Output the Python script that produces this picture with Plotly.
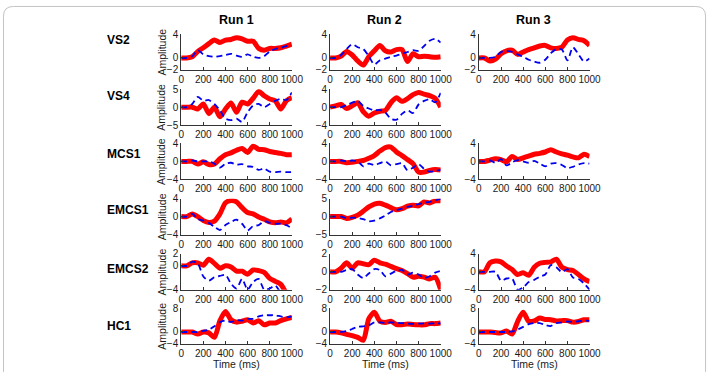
import plotly.graph_objects as go

# ---------------- data ----------------
time_ms = list(range(0, 1001, 50))
x_ticks = [0, 200, 400, 600, 800, 1000]
run_titles = ["Run 1", "Run 2", "Run 3"]
row_labels = ["VS2", "VS4", "MCS1", "EMCS1", "EMCS2", "HC1"]

vs2_r1_red = [0, 0, 0.2, 1.1, 1.7, 2.4, 3.0, 2.6, 3.0, 3.1, 3.4, 3.2, 2.8, 2.8, 1.6, 1.3, 1.6, 1.6, 1.7, 2.0, 2.3]
vs2_r1_blue = [0, 0, 0.3, 1.3, 0.6, 0.3, 0.2, 0.3, 0.5, 0.7, 0.4, 0.2, 0.6, 0.2, 0.0, 0.3, 1.1, 1.5, 1.7, 2.0, 2.0]
vs2_r2_red = [0, 0, 0.3, 1.1, 0.5, -0.5, -1.2, 0.2, 1.2, 2.1, 1.2, 1.0, 1.4, 1.4, -0.6, 0.7, 0.2, 0.3, 0.2, 0.1, 0.2]
vs2_r2_blue = [0, 0, 0.5, 1.5, 2.3, 1.8, 1.5, 0.3, -1.1, -0.4, -0.1, 0.2, 0.4, 0.7, 1.0, 1.3, 1.2, 2.0, 2.9, 3.2, 2.6]
vs2_r3_red = [0, 0, -0.5, -0.2, 0.7, 1.2, 1.3, 0.6, 1.0, 1.4, 1.7, 2.0, 2.1, 1.7, 1.6, 1.8, 3.0, 3.4, 3.1, 2.9, 2.1]
vs2_r3_blue = [0, 0, 0, 0.2, 1.0, 1.2, 1.0, 0.6, 0.2, -0.3, -0.6, -0.8, -0.3, 0.8, 1.5, 1.4, -0.4, 1.8, 0.6, -0.6, -0.1]

vs4_r1_red = [0, 0, 0, -0.5, 0.9, -1.8, 0, -2.7, -0.5, 1.2, -1.4, 1.4, 0.9, 2.5, 4.4, 3.2, 2.3, 1.8, -0.5, 1.8, 2.7]
vs4_r1_blue = [0, 0, 0.9, 2.9, 1.8, 2.0, 0.9, -0.9, -3.2, -3.6, -3.2, -4.1, -1.4, 0.5, 0.9, 0, 0.9, 1.8, 2.3, 2.0, 4.1]
vs4_r2_red = [0, 0.3, 0.6, -0.3, 0.3, 1.0, -1.0, -2.0, -1.3, -0.9, -0.7, 1.0, 2.1, 1.3, 1.9, 2.8, 3.3, 2.9, 2.6, 2.0, 0]
vs4_r2_blue = [0, 0, 0, 0.5, 1.0, 1.4, 0.3, -0.3, -0.7, -0.6, -1.2, -2.6, -2.8, -1.5, -0.7, -1.3, 0.6, 1.4, 1.8, 1.1, 3.2]

mcs1_r1_red = [0, 0, 0, -0.6, -0.1, -0.7, -0.6, 0.6, 1.5, 1.9, 2.5, 2.9, 2.0, 3.4, 2.7, 2.6, 2.2, 2.0, 1.8, 1.5, 1.5]
mcs1_r1_blue = [0, 0, 0.2, 0, 0, 0, -0.5, -1.4, -0.5, -0.3, -0.7, -0.6, -1.1, -1.2, -1.9, -1.6, -2.3, -2.4, -2.3, -2.4, -2.4]
mcs1_r2_red = [0, 0, 0, -0.3, -0.2, 0, 0.2, 0.7, 1.3, 2.3, 3.1, 3.2, 2.1, 1.3, 0.4, -0.5, -2.4, -2.4, -2.0, -1.8, -1.9]
mcs1_r2_blue = [0, 0, 0.2, 0, 0.2, 0, -1.1, -0.5, -0.8, -0.4, 0, -0.9, -0.6, -0.4, -2.0, -1.4, -0.6, -1.7, -2.3, -2.1, -1.9]
mcs1_r3_red = [0, 0, 0.3, 0.6, 0.4, -0.1, 1.1, 0.4, 0.8, 1.2, 1.6, 1.8, 2.1, 2.6, 2.1, 1.7, 1.4, 1.0, 0.8, 1.6, 1.1]
mcs1_r3_blue = [0, 0, 0.2, -0.3, 0.5, -0.9, -0.2, 0.3, 0, -0.3, 0.1, -0.5, -1.1, -0.5, -0.4, -0.8, -1.5, -1.2, -0.7, -0.4, -0.5]

emcs1_r1_red = [0, 0, 0.6, 0, -0.9, -1.3, -1.0, 0.6, 3.1, 3.6, 3.3, 2.0, 0.9, 0.6, -0.1, -0.6, -1.2, -1.4, -1.2, -1.4, -0.5]
emcs1_r1_blue = [0, 0, 0.6, -0.5, -0.9, -1.4, -2.3, -3.0, -1.9, -1.2, -0.7, -1.6, -3.1, -2.1, -1.9, -1.0, -1.4, -1.6, -1.6, -1.9, -2.6]
emcs1_r2_red = [0, 0, 0, -0.5, -0.2, 0.4, 1.5, 2.7, 3.5, 3.7, 3.2, 2.5, 1.9, 2.2, 2.9, 3.2, 3.0, 4.1, 3.8, 4.4, 4.4]
emcs1_r2_blue = [0, 0, 0, -0.4, -0.3, -0.4, -0.7, -1.3, -1.1, -0.5, 0.3, 1.3, 1.8, 2.2, 2.7, 3.1, 3.5, 3.9, 4.1, 4.5, 5.0]

emcs2_r1_red = [0, 0, 0.5, 0.5, 0.1, 1.1, 0.4, -0.4, 0.0, -0.2, -0.9, -0.9, -1.4, -0.7, -0.8, -1.1, -2.1, -2.6, -3.1, -4.6, -6.0]
emcs2_r1_blue = [0, 0, 0.7, 0.4, -1.8, -2.5, -1.9, -1.7, -1.5, -3.0, -3.8, -2.2, -4.0, -2.7, -2.2, -4.0, -3.8, -3.3, -4.5, -5.0, -5.0]
emcs2_r2_red = [0, 0, 0.4, 1.0, 0.4, 1.0, 0.9, 0.8, 1.3, 1.0, 0.85, 0.6, 0.35, 0.15, -0.2, -0.6, -0.5, -0.6, -0.8, -0.6, -2.0]
emcs2_r2_blue = [0, 0, 0, 0.2, 0.3, -0.3, -0.7, -0.2, 0.3, 0.2, -0.5, -0.2, 0.1, 0.2, -0.3, -0.1, -0.3, -0.7, -0.5, -0.1, 0.1]
emcs2_r3_red = [0, 0, 2.0, 2.4, 2.2, 1.3, 0.5, -0.6, -0.2, -0.8, 1.0, 1.9, 2.1, 2.2, 2.8, 1.0, 0.5, 0.3, -0.6, -1.6, -2.2]
emcs2_r3_blue = [0, 0, 0, 0, -2.0, -1.5, -1.5, -4.0, -3.5, -2.3, -1.8, -1.1, -0.6, 1.5, 1.0, -0.1, 0.6, -1.3, -1.6, -2.6, -4.0]

hc1_r1_red = [0, 0, 0, -0.7, 0, -0.3, -1.8, 3.8, 6.9, 4.1, 3.3, 3.6, 4.1, 3.0, 3.8, 2.4, 3.0, 3.0, 3.8, 4.4, 4.9]
hc1_r1_blue = [0, 0, 0, 0, 0.4, 0.8, 1.9, 3.3, 3.8, 3.3, 4.0, 3.8, 4.4, 4.4, 5.2, 5.6, 5.6, 5.6, 5.2, 4.9, 5.2]
hc1_r2_red = [0, 0, -0.3, -0.8, -1.2, -1.8, -2.8, 4.4, 6.6, 3.6, 3.2, 3.6, 2.5, 2.4, 2.7, 2.5, 2.4, 2.4, 2.8, 2.8, 3.0]
hc1_r2_blue = [0, 0, 0, 0.3, 1.0, 1.7, 1.9, 2.2, 3.2, 3.2, 3.0, 3.2, 3.1, 3.0, 2.8, 2.7, 2.8, 2.9, 2.8, 2.9, 2.9]
hc1_r3_red = [0, 0, 0, -0.2, -0.3, 0.3, -0.7, 3.5, 6.6, 3.6, 3.7, 4.7, 4.2, 4.1, 3.7, 3.8, 3.8, 3.3, 3.5, 4.1, 4.1]
hc1_r3_blue = [0, 0, 0, 0, 0, 0, 0.2, 0.8, 1.7, 2.6, 3.0, 3.0, 2.3, 2.0, 3.0, 3.2, 3.5, 3.4, 3.6, 3.8, 3.7]

# (row, column, red series, blue series, y min, y max)
panels = [
    (0, 0, vs2_r1_red, vs2_r1_blue, -2, 4),
    (0, 1, vs2_r2_red, vs2_r2_blue, -2, 4),
    (0, 2, vs2_r3_red, vs2_r3_blue, -2, 4),
    (1, 0, vs4_r1_red, vs4_r1_blue, -5, 5),
    (1, 1, vs4_r2_red, vs4_r2_blue, -4, 4),
    (2, 0, mcs1_r1_red, mcs1_r1_blue, -4, 4),
    (2, 1, mcs1_r2_red, mcs1_r2_blue, -4, 4),
    (2, 2, mcs1_r3_red, mcs1_r3_blue, -4, 4),
    (3, 0, emcs1_r1_red, emcs1_r1_blue, -4, 4),
    (3, 1, emcs1_r2_red, emcs1_r2_blue, -5, 5),
    (4, 0, emcs2_r1_red, emcs2_r1_blue, -4, 2),
    (4, 1, emcs2_r2_red, emcs2_r2_blue, -2, 2),
    (4, 2, emcs2_r3_red, emcs2_r3_blue, -4, 4),
    (5, 0, hc1_r1_red, hc1_r1_blue, -4, 8),
    (5, 1, hc1_r2_red, hc1_r2_blue, -4, 8),
    (5, 2, hc1_r3_red, hc1_r3_blue, -4, 8),
]

# ---------------- layout geometry ----------------
W, H = 721, 378
col_left = [182, 334, 486]
col_w = 113
row_top = [29, 86, 142, 199, 256, 312]
row_h = 37
FONT = "Liberation Sans, Arial, Helvetica, sans-serif"


def px_x(p):
    return p / W


def px_y(p):
    return 1 - p / H


fig = go.Figure()
layout = dict(
    width=W, height=H, margin=dict(l=0, r=0, t=0, b=0),
    paper_bgcolor="white", plot_bgcolor="rgba(0,0,0,0)",
    showlegend=False, font=dict(family=FONT, size=10, color="#1a1a1a"),
)

for i, (r, c, red, blue, ymin, ymax) in enumerate(panels):
    k = i + 1
    xa = "x" if k == 1 else f"x{k}"
    ya = "y" if k == 1 else f"y{k}"
    fig.add_trace(go.Scatter(x=time_ms, y=red, xaxis=xa, yaxis=ya, mode="lines",
                             line=dict(color="#ff0000", width=5, shape="spline", smoothing=0.7),
                             hoverinfo="skip"))
    fig.add_trace(go.Scatter(x=time_ms, y=blue, xaxis=xa, yaxis=ya, mode="lines",
                             line=dict(color="#0000ee", width=1.8, dash="6px,4px",
                                       shape="spline", smoothing=0.7),
                             hoverinfo="skip"))
    x0 = px_x(col_left[c]); x1 = px_x(col_left[c] + col_w)
    y1 = px_y(row_top[r]); y0 = px_y(row_top[r] + row_h)
    common = dict(showline=True, linecolor="#333333", linewidth=1, ticks="inside",
                  ticklen=3, tickcolor="#333333", showgrid=False, zeroline=False,
                  mirror=False, tickangle=0,
                  tickfont=dict(family=FONT, size=10, color="#1a1a1a"),
                  fixedrange=True)
    xkey = "xaxis" if k == 1 else f"xaxis{k}"
    ykey = "yaxis" if k == 1 else f"yaxis{k}"
    layout[xkey] = dict(domain=[x0, x1], range=[0, 1000], tickvals=x_ticks,
                        anchor=ya, **common)
    layout[ykey] = dict(domain=[y0, y1], range=[ymin, ymax], tickvals=[ymin, 0, ymax],
                        anchor=xa, **common)

annotations = []
title_x = [238, 390, 542]
for c, t in enumerate(run_titles):
    annotations.append(dict(text=f"<b>{t}</b>", x=px_x(title_x[c]), y=px_y(14), xref="paper",
                            yref="paper", showarrow=False, xanchor="center", yanchor="middle",
                            font=dict(family=FONT, size=12.5, color="#000")))
label_y = [35, 93, 153, 211, 272, 330]
for r, lab in enumerate(row_labels):
    annotations.append(dict(text=f"<b>{lab}</b>", x=px_x(104), y=px_y(label_y[r]), xref="paper",
                            yref="paper", showarrow=False, xanchor="left", yanchor="middle",
                            font=dict(family=FONT, size=12, color="#000")))
    annotations.append(dict(text="Amplitude", x=px_x(162), y=px_y(row_top[r] + row_h / 2),
                            xref="paper", yref="paper", showarrow=False, textangle=-90,
                            xanchor="center", yanchor="middle",
                            font=dict(family=FONT, size=10.5, color="#1a1a1a")))
for c in range(3):
    annotations.append(dict(text="Time (ms)", x=px_x(col_left[c] + col_w / 2), y=px_y(370),
                            xref="paper", yref="paper", showarrow=False, xanchor="center",
                            yanchor="middle", font=dict(family=FONT, size=10.5, color="#1a1a1a")))
layout["annotations"] = annotations

frame_path = (f"M {px_x(0.5)},{px_y(377.9)} L {px_x(0.5)},{px_y(10.5)} "
              f"Q {px_x(0.5)},{px_y(0.5)} {px_x(10.5)},{px_y(0.5)} "
              f"L {px_x(707.5)},{px_y(0.5)} Q {px_x(717.5)},{px_y(0.5)} {px_x(717.5)},{px_y(10.5)} "
              f"L {px_x(717.5)},{px_y(377.9)}")
layout["shapes"] = [dict(type="path", path=frame_path, xref="paper", yref="paper",
                         fillcolor="rgba(0,0,0,0)", line=dict(color="#c4c4c4", width=1))]

fig.update_layout(**layout)
fig.write_html("out.html", config={"displayModeBar": False})
